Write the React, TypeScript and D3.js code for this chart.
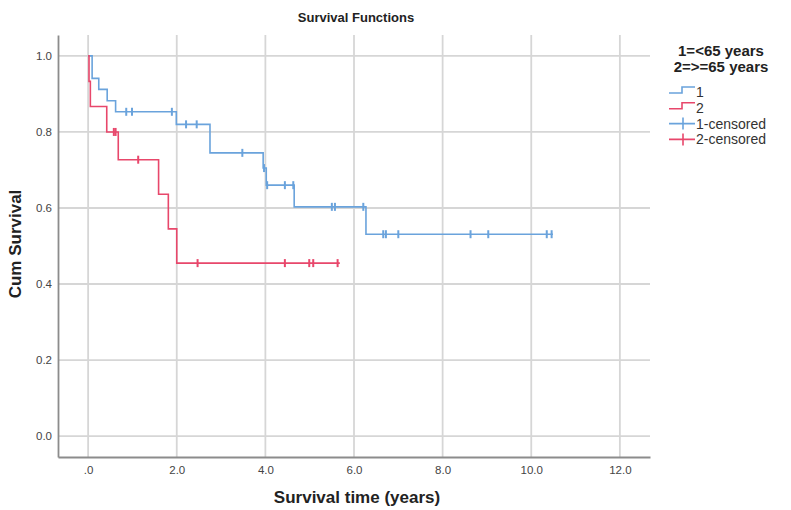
import React, { useEffect, useRef } from 'react';
import * as d3 from 'd3';

// group 1 (<65 years): step times and cumulative survival after each step
const group1Times = [0, 0.09, 0.24, 0.43, 0.62, 1.99, 2.75, 3.95, 4.02, 4.65, 6.27, 10.49];
const group1Surv = [1, 0.941, 0.912, 0.882, 0.853, 0.82, 0.745, 0.705, 0.66, 0.603, 0.531, 0.531];
const group1Censored = [0.86, 0.99, 1.89, 2.21, 2.45, 3.48, 3.97, 4.04, 4.44, 4.63, 5.5, 5.57, 6.21, 6.66, 6.72, 7.0, 8.63, 9.03, 10.35, 10.46];

// group 2 (>=65 years)
const group2Times = [0, 0.02, 0.05, 0.42, 0.68, 1.59, 1.81, 2.0, 5.68];
const group2Surv = [1, 0.933, 0.867, 0.8, 0.727, 0.636, 0.545, 0.455, 0.455];
const group2Censored = [0.58, 0.62, 1.13, 2.47, 4.44, 4.99, 5.08, 5.63];

const xTicks = [0, 2, 4, 6, 8, 10, 12];
const yTicks = [0, 0.2, 0.4, 0.6, 0.8, 1.0];

const legendTitle = ['1=<65 years', '2=>=65 years'];
const legendItems = ['1', '2', '1-censored', '2-censored'];

const BLUE = '#6aa3dc';
const RED = '#e8476b';
const FONT = '"Liberation Sans", Arial, sans-serif';

const App = () => {
  const svgRef = useRef<SVGSVGElement>(null);

  useEffect(() => {
    const svg = d3.select(svgRef.current);
    svg.selectAll('*').remove();

    const x = d3.scaleLinear().domain([-0.68, 12.68]).range([58, 650]);
    const y = d3.scaleLinear().domain([-0.055, 1.055]).range([457, 35]);

    // grid
    svg
      .append('g')
      .selectAll('line')
      .data(yTicks)
      .join('line')
      .attr('x1', x.range()[0])
      .attr('x2', x.range()[1])
      .attr('y1', (d) => y(d))
      .attr('y2', (d) => y(d))
      .attr('stroke', '#d6d6d6')
      .attr('stroke-width', 1.8);

    svg
      .append('g')
      .selectAll('line')
      .data(xTicks)
      .join('line')
      .attr('x1', (d) => x(d))
      .attr('x2', (d) => x(d))
      .attr('y1', y.range()[1])
      .attr('y2', y.range()[0])
      .attr('stroke', '#d6d6d6')
      .attr('stroke-width', 1.8);

    // axes
    const xAxis = svg
      .append('g')
      .attr('transform', `translate(0, ${y.range()[0]})`)
      .call(
        d3
          .axisBottom(x)
          .tickValues(xTicks)
          .tickSize(0)
          .tickPadding(9)
          .tickFormat((d) => (d === 0 ? '.0' : d3.format('.1f')(d as number)))
      );
    const yAxis = svg
      .append('g')
      .attr('transform', `translate(${x.range()[0]}, 0)`)
      .call(d3.axisLeft(y).tickValues(yTicks).tickSize(0).tickPadding(6).tickFormat(d3.format('.1f')));

    [xAxis, yAxis].forEach((a) => {
      a.select('.domain').attr('stroke', '#8c8c8c').attr('stroke-width', 1.8);
      a.selectAll('text').attr('font-family', FONT).attr('font-size', 11.5).attr('fill', '#444');
    });

    const line = d3
      .line<number>()
      .x((d) => x(d))
      .curve(d3.curveStepAfter);

    const drawGroup = (times: number[], surv: number[], censored: number[], color: string) => {
      svg
        .append('path')
        .attr('fill', 'none')
        .attr('stroke', color)
        .attr('stroke-width', 1.6)
        .attr('d', line.y((d, i) => y(surv[i]))(times));

      const survAt = (t: number) => {
        const i = d3.bisectRight(times, t) - 1;
        return surv[Math.max(0, i)];
      };

      svg
        .append('g')
        .selectAll('line')
        .data(censored)
        .join('line')
        .attr('x1', (d) => x(d))
        .attr('x2', (d) => x(d))
        .attr('y1', (d) => y(survAt(d)) - 4)
        .attr('y2', (d) => y(survAt(d)) + 4)
        .attr('stroke', color)
        .attr('stroke-width', 2);
    };

    drawGroup(group1Times, group1Surv, group1Censored, BLUE);
    drawGroup(group2Times, group2Surv, group2Censored, RED);

    // titles
    svg
      .append('text')
      .attr('x', 356)
      .attr('y', 22)
      .attr('text-anchor', 'middle')
      .attr('font-family', FONT)
      .attr('font-weight', 'bold')
      .attr('font-size', 13)
      .attr('fill', '#222')
      .text('Survival Functions');

    svg
      .append('text')
      .attr('x', 357)
      .attr('y', 503)
      .attr('text-anchor', 'middle')
      .attr('font-family', FONT)
      .attr('font-weight', 'bold')
      .attr('font-size', 17)
      .attr('fill', '#222')
      .text('Survival time (years)');

    svg
      .append('text')
      .attr('transform', 'translate(21, 244) rotate(-90)')
      .attr('text-anchor', 'middle')
      .attr('font-family', FONT)
      .attr('font-weight', 'bold')
      .attr('font-size', 17)
      .attr('fill', '#222')
      .text('Cum Survival');

    // legend
    const legend = svg.append('g');
    legend
      .selectAll('text.title')
      .data(legendTitle)
      .join('text')
      .attr('class', 'title')
      .attr('x', 721)
      .attr('y', (d, i) => 56 + i * 16)
      .attr('text-anchor', 'middle')
      .attr('font-family', FONT)
      .attr('font-weight', 'bold')
      .attr('font-size', 15)
      .attr('fill', '#222')
      .text((d) => d);

    const colors = [BLUE, RED, BLUE, RED];
    const rows = legend
      .selectAll('g.item')
      .data(legendItems)
      .join('g')
      .attr('class', 'item')
      .attr('transform', (d, i) => `translate(0, ${92 + i * 15.8})`);

    rows
      .append('text')
      .attr('x', 696)
      .attr('y', 5)
      .attr('font-family', FONT)
      .attr('font-size', 14)
      .attr('fill', '#333')
      .text((d) => d);

    rows
      .filter((d, i) => i < 2)
      .append('path')
      .attr('fill', 'none')
      .attr('stroke', (d, i) => colors[i])
      .attr('stroke-width', 1.6)
      .attr('d', 'M669,1H682V-5H695');

    rows
      .filter((d, i) => i >= 2)
      .append('path')
      .attr('fill', 'none')
      .attr('stroke', (d, i) => colors[i + 2])
      .attr('stroke-width', 1.6)
      .attr('d', 'M669,0H695M683,-6V6');
  }, []);

  return (
    <svg
      ref={svgRef}
      width={791}
      height={510}
      style={{ position: 'absolute', left: 0, top: 0, background: '#fff' }}
    ></svg>
  );
};

export default App;
